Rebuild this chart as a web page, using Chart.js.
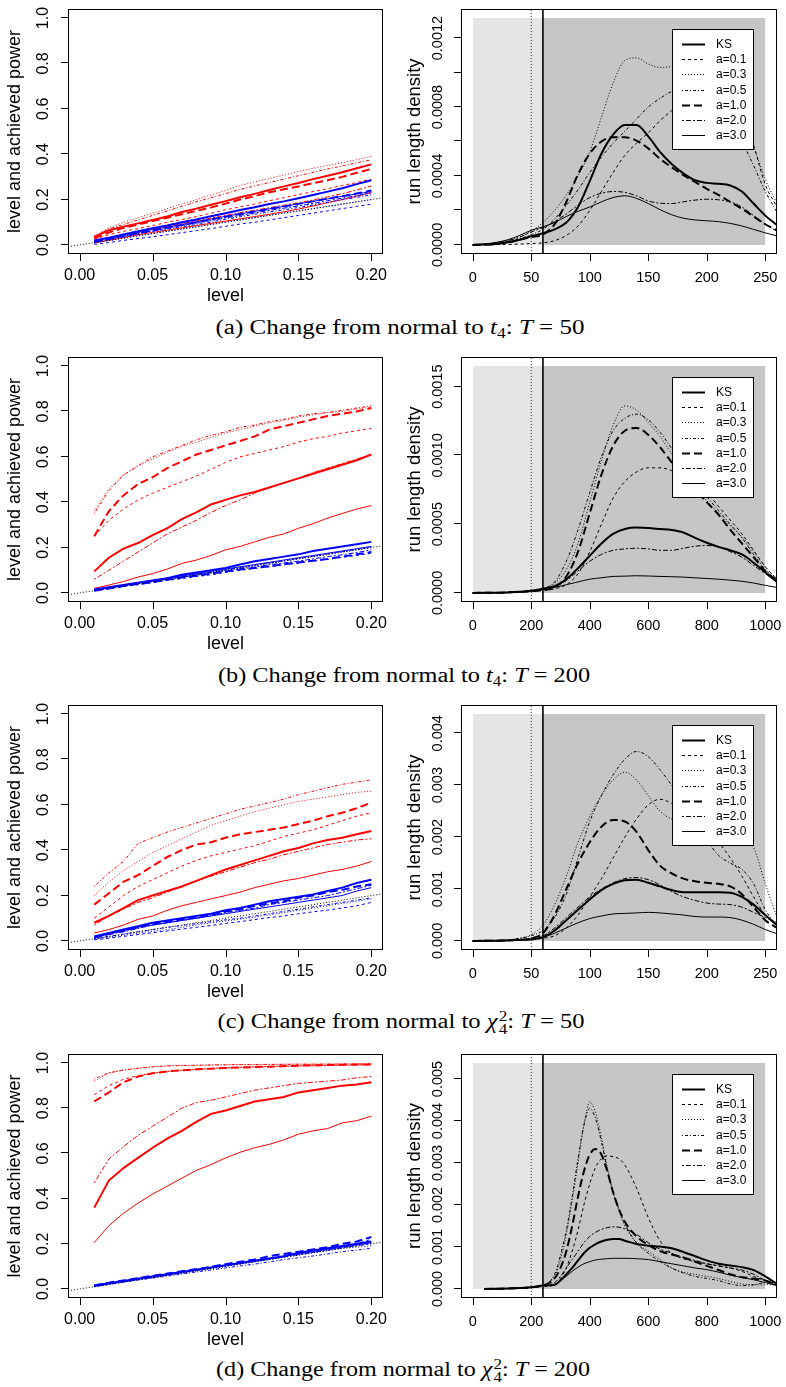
<!DOCTYPE html>
<html>
<head>
<meta charset="utf-8">
<script src="https://cdn.jsdelivr.net/npm/chart.js@4.4.1/dist/chart.umd.min.js"></script>
<style>
  html, body { margin: 0; padding: 0; background: #fff; }
  body { width: 786px; height: 1387px; position: relative; overflow: hidden; }
  canvas { position: absolute; }
  .cap { position: absolute; font-family: "Liberation Serif", "Times New Roman", serif; font-size: 20px;
         white-space: nowrap; color: #000; transform-origin: center center; }
  .cap sub { font-size: 0.7em; vertical-align: -0.3em; line-height: 0; }
  .ss { display: inline-block; vertical-align: -0.42em; font-size: 0.7em; line-height: 0.92; margin-left: 1px; }
  .ss span { display: block; }
</style>
</head>
<body>
<div class="cap" data-w="369" style="left:400px;top:327px">(a) Change from normal to <i>t</i><sub>4</sub>: <i>T</i> = 50</div>
<div class="cap" data-w="372" style="left:404px;top:675px">(b) Change from normal to <i>t</i><sub>4</sub>: <i>T</i> = 200</div>
<div class="cap" data-w="367" style="left:401px;top:1023px">(c) Change from normal to <i>χ</i><span class="ss"><span>2</span><span>4</span></span>: <i>T</i> = 50</div>
<div class="cap" data-w="374" style="left:403px;top:1371px">(d) Change from normal to <i>χ</i><span class="ss"><span>2</span><span>4</span></span>: <i>T</i> = 200</div>
<script>
/* ---------- Daten ---------- */

const METHODS = ["KS", "a=0.1", "a=0.3", "a=0.5", "a=1.0", "a=2.0", "a=3.0"];
const LEVELS = [0.01,0.02,0.03,0.04,0.05,0.06,0.07,0.08,0.09,0.10,0.11,0.12,0.13,0.14,0.15,0.16,0.17,0.18,0.19,0.20];
const LEVEL_TICKS = [0, 0.05, 0.10, 0.15, 0.20];
const LEVEL_LABELS = ["0.00", "0.05", "0.10", "0.15", "0.20"];
const POWER_TICKS = [0, 0.2, 0.4, 0.6, 0.8, 1.0];
const POWER_LABELS = ["0.0", "0.2", "0.4", "0.6", "0.8", "1.0"];

// (a) t4, T=50 : Power (rot) und erreichtes Niveau (blau)
const A_POW_KS = [0.035,0.065,0.08,0.095,0.11,0.125,0.145,0.16,0.177,0.193,0.21,0.225,0.242,0.258,0.273,0.29,0.305,0.32,0.338,0.355];
const A_POW_01 = [0.025,0.045,0.06,0.072,0.085,0.1,0.112,0.125,0.14,0.155,0.168,0.18,0.195,0.208,0.222,0.235,0.248,0.262,0.275,0.29];
const A_POW_03 = [0.04,0.075,0.1,0.12,0.14,0.16,0.18,0.2,0.22,0.24,0.262,0.278,0.293,0.308,0.323,0.338,0.35,0.362,0.376,0.39];
const A_POW_05 = [0.035,0.07,0.09,0.11,0.13,0.15,0.17,0.19,0.208,0.226,0.245,0.26,0.275,0.29,0.305,0.32,0.335,0.348,0.362,0.375];
const A_POW_10 = [0.03,0.055,0.075,0.09,0.105,0.12,0.135,0.15,0.165,0.182,0.2,0.215,0.232,0.245,0.258,0.272,0.285,0.3,0.318,0.335];
const A_POW_20 = [0.015,0.03,0.045,0.058,0.07,0.082,0.094,0.106,0.118,0.13,0.142,0.153,0.164,0.175,0.186,0.198,0.212,0.226,0.242,0.26];
const A_POW_30 = [0.01,0.02,0.032,0.045,0.055,0.065,0.075,0.085,0.095,0.105,0.115,0.125,0.135,0.146,0.158,0.172,0.186,0.2,0.215,0.23];
const A_LEV_KS = [0.02,0.032,0.046,0.06,0.074,0.086,0.1,0.112,0.126,0.14,0.154,0.166,0.18,0.192,0.206,0.22,0.235,0.25,0.268,0.285];
const A_LEV_01 = [0.003,0.01,0.02,0.028,0.036,0.045,0.054,0.063,0.072,0.082,0.092,0.1,0.11,0.12,0.13,0.14,0.15,0.16,0.17,0.18];
const A_LEV_03 = [0.008,0.019,0.029,0.04,0.05,0.06,0.07,0.08,0.09,0.1,0.11,0.12,0.13,0.14,0.15,0.16,0.17,0.18,0.19,0.2];
const A_LEV_05 = [0.01,0.024,0.035,0.048,0.06,0.07,0.08,0.09,0.1,0.113,0.124,0.135,0.145,0.155,0.165,0.176,0.188,0.199,0.21,0.22];
const A_LEV_10 = [0.015,0.026,0.04,0.052,0.064,0.076,0.088,0.1,0.112,0.124,0.136,0.147,0.159,0.17,0.181,0.192,0.204,0.215,0.227,0.24];
const A_LEV_20 = [0.015,0.025,0.038,0.05,0.062,0.073,0.085,0.096,0.107,0.119,0.13,0.141,0.152,0.162,0.172,0.183,0.195,0.206,0.217,0.23];
const A_LEV_30 = [0.02,0.03,0.042,0.055,0.068,0.079,0.09,0.102,0.114,0.126,0.137,0.148,0.159,0.17,0.181,0.192,0.203,0.214,0.225,0.235];

// (b) t4, T=200
const B_POW_KS = [0.095,0.155,0.195,0.22,0.255,0.285,0.325,0.355,0.39,0.41,0.43,0.445,0.465,0.485,0.505,0.525,0.545,0.565,0.585,0.61];
const B_POW_01 = [0.25,0.32,0.37,0.41,0.44,0.465,0.49,0.515,0.545,0.575,0.6,0.615,0.63,0.645,0.665,0.68,0.69,0.705,0.715,0.725];
const B_POW_03 = [0.36,0.46,0.52,0.56,0.59,0.62,0.645,0.665,0.685,0.705,0.72,0.735,0.75,0.76,0.775,0.785,0.795,0.8,0.81,0.82];
const B_POW_05 = [0.35,0.45,0.52,0.56,0.6,0.625,0.65,0.675,0.695,0.71,0.73,0.74,0.755,0.765,0.78,0.79,0.795,0.805,0.815,0.825];
const B_POW_10 = [0.25,0.36,0.43,0.48,0.51,0.55,0.58,0.61,0.63,0.65,0.67,0.69,0.72,0.735,0.75,0.765,0.78,0.79,0.8,0.815];
const B_POW_20 = [0.06,0.1,0.14,0.18,0.22,0.26,0.29,0.32,0.355,0.385,0.41,0.44,0.465,0.485,0.505,0.53,0.55,0.57,0.59,0.61];
const B_POW_30 = [0.02,0.035,0.05,0.07,0.085,0.105,0.13,0.145,0.165,0.19,0.205,0.225,0.245,0.26,0.285,0.305,0.33,0.35,0.37,0.385];
const B_LEV_KS = [0.015,0.025,0.035,0.045,0.055,0.065,0.08,0.09,0.1,0.11,0.125,0.14,0.15,0.16,0.17,0.185,0.195,0.205,0.215,0.225];
const B_LEV_01 = [0.01,0.018,0.028,0.036,0.045,0.055,0.063,0.072,0.08,0.09,0.1,0.108,0.115,0.124,0.132,0.14,0.148,0.157,0.165,0.175];
const B_LEV_03 = [0.01,0.02,0.03,0.04,0.05,0.06,0.07,0.08,0.09,0.1,0.11,0.12,0.13,0.14,0.15,0.16,0.17,0.18,0.19,0.2];
const B_LEV_05 = [0.012,0.022,0.032,0.042,0.052,0.062,0.072,0.082,0.092,0.102,0.112,0.122,0.132,0.142,0.152,0.162,0.172,0.182,0.192,0.202];
const B_LEV_10 = [0.01,0.02,0.03,0.04,0.048,0.058,0.068,0.076,0.085,0.094,0.103,0.11,0.118,0.126,0.134,0.142,0.15,0.16,0.17,0.18];
const B_LEV_20 = [0.012,0.022,0.032,0.042,0.05,0.06,0.07,0.078,0.088,0.096,0.106,0.114,0.124,0.132,0.14,0.15,0.16,0.168,0.178,0.19];
const B_LEV_30 = [0.015,0.025,0.035,0.045,0.055,0.065,0.075,0.085,0.095,0.105,0.115,0.125,0.135,0.145,0.155,0.165,0.175,0.185,0.195,0.205];

// (c) chi2_4, T=50
const C_POW_KS = [0.08,0.11,0.145,0.18,0.2,0.22,0.24,0.265,0.29,0.315,0.335,0.355,0.375,0.395,0.41,0.43,0.445,0.455,0.47,0.485];
const C_POW_01 = [0.1,0.15,0.2,0.24,0.27,0.3,0.33,0.355,0.375,0.39,0.405,0.42,0.44,0.46,0.475,0.49,0.51,0.53,0.55,0.565];
const C_POW_03 = [0.2,0.26,0.31,0.35,0.39,0.42,0.45,0.48,0.51,0.53,0.55,0.57,0.585,0.6,0.615,0.625,0.635,0.645,0.655,0.66];
const C_POW_05 = [0.24,0.3,0.35,0.43,0.455,0.48,0.5,0.52,0.54,0.56,0.58,0.595,0.61,0.625,0.645,0.66,0.675,0.69,0.7,0.71];
const C_POW_10 = [0.16,0.21,0.26,0.29,0.33,0.37,0.4,0.425,0.435,0.455,0.47,0.48,0.49,0.5,0.515,0.53,0.55,0.565,0.585,0.61];
const C_POW_20 = [0.07,0.11,0.14,0.17,0.19,0.215,0.24,0.265,0.285,0.305,0.325,0.345,0.36,0.38,0.395,0.41,0.425,0.435,0.445,0.45];
const C_POW_30 = [0.035,0.05,0.07,0.095,0.11,0.135,0.155,0.17,0.185,0.2,0.215,0.235,0.25,0.265,0.275,0.29,0.305,0.315,0.33,0.35];
const C_LEV_KS = [0.02,0.035,0.05,0.065,0.08,0.09,0.1,0.11,0.12,0.135,0.145,0.16,0.175,0.185,0.195,0.205,0.22,0.235,0.255,0.27];
const C_LEV_01 = [0.005,0.012,0.02,0.028,0.036,0.044,0.052,0.06,0.068,0.077,0.085,0.094,0.103,0.11,0.12,0.128,0.136,0.145,0.155,0.17];
const C_LEV_03 = [0.008,0.016,0.025,0.034,0.042,0.05,0.06,0.07,0.08,0.088,0.096,0.105,0.115,0.125,0.135,0.145,0.155,0.165,0.175,0.185];
const C_LEV_05 = [0.01,0.02,0.03,0.04,0.05,0.06,0.068,0.076,0.085,0.093,0.1,0.11,0.12,0.13,0.14,0.15,0.16,0.17,0.18,0.19];
const C_LEV_10 = [0.015,0.03,0.045,0.06,0.075,0.085,0.095,0.105,0.115,0.13,0.14,0.155,0.165,0.175,0.19,0.2,0.215,0.225,0.24,0.25];
const C_LEV_20 = [0.015,0.03,0.04,0.055,0.07,0.08,0.09,0.1,0.11,0.125,0.135,0.145,0.16,0.17,0.18,0.19,0.2,0.215,0.23,0.245];
const C_LEV_30 = [0.015,0.03,0.045,0.06,0.07,0.08,0.09,0.1,0.11,0.12,0.13,0.14,0.15,0.16,0.17,0.18,0.19,0.2,0.22,0.235];

// (d) chi2_4, T=200
const D_POW_KS = [0.36,0.48,0.535,0.58,0.625,0.665,0.7,0.74,0.775,0.79,0.81,0.83,0.84,0.85,0.87,0.88,0.89,0.9,0.905,0.915];
const D_POW_01 = [0.86,0.9,0.928,0.945,0.955,0.963,0.968,0.972,0.976,0.979,0.981,0.983,0.985,0.986,0.987,0.988,0.989,0.99,0.991,0.992];
const D_POW_03 = [0.92,0.955,0.97,0.978,0.984,0.988,0.99,0.99,0.992,0.993,0.993,0.994,0.994,0.995,0.995,0.995,0.996,0.996,0.996,0.997];
const D_POW_05 = [0.93,0.957,0.968,0.976,0.983,0.987,0.989,0.99,0.991,0.992,0.993,0.993,0.994,0.994,0.995,0.995,0.995,0.996,0.996,0.996];
const D_POW_10 = [0.83,0.87,0.915,0.94,0.955,0.963,0.968,0.972,0.975,0.978,0.98,0.982,0.984,0.986,0.988,0.99,0.991,0.992,0.993,0.994];
const D_POW_20 = [0.47,0.575,0.63,0.68,0.72,0.76,0.8,0.825,0.835,0.85,0.865,0.88,0.89,0.9,0.91,0.915,0.92,0.925,0.935,0.94];
const D_POW_30 = [0.205,0.28,0.335,0.38,0.42,0.455,0.49,0.525,0.55,0.58,0.605,0.625,0.64,0.66,0.685,0.7,0.71,0.735,0.745,0.765];
const D_LEV_KS = [0.015,0.025,0.035,0.045,0.055,0.065,0.075,0.085,0.095,0.105,0.115,0.125,0.135,0.145,0.16,0.17,0.18,0.19,0.2,0.21];
const D_LEV_01 = [0.012,0.024,0.034,0.044,0.054,0.064,0.074,0.084,0.094,0.104,0.115,0.125,0.135,0.145,0.158,0.168,0.18,0.19,0.2,0.22];
const D_LEV_03 = [0.01,0.02,0.03,0.04,0.05,0.06,0.07,0.08,0.09,0.1,0.11,0.12,0.13,0.14,0.15,0.16,0.17,0.18,0.185,0.19];
const D_LEV_05 = [0.01,0.02,0.03,0.04,0.048,0.057,0.066,0.075,0.084,0.093,0.102,0.11,0.12,0.13,0.138,0.146,0.155,0.165,0.172,0.18];
const D_LEV_10 = [0.015,0.028,0.038,0.048,0.058,0.068,0.078,0.088,0.098,0.11,0.12,0.13,0.145,0.155,0.165,0.175,0.185,0.2,0.21,0.23];
const D_LEV_20 = [0.012,0.022,0.032,0.042,0.052,0.062,0.072,0.082,0.092,0.102,0.112,0.122,0.132,0.142,0.152,0.162,0.172,0.182,0.192,0.2];
const D_LEV_30 = [0.015,0.025,0.035,0.045,0.055,0.065,0.075,0.085,0.095,0.105,0.115,0.125,0.135,0.145,0.155,0.165,0.175,0.185,0.195,0.205];

// Laufl\u00e4ngen-Dichten (rechte Spalte)
const RUN_50 = [0,10,20,30,40,50,60,70,80,90,100,110,120,130,140,150,160,170,180,190,200,210,220,230,240,250,260];
const RUN_200 = [0,40,80,120,160,200,240,280,320,360,400,440,480,520,560,600,640,680,720,760,800,840,880,920,960,1000,1040];
const RUN_200D = [40,80,120,160,200,240,280,300,320,340,360,380,400,420,440,460,480,500,520,560,600,640,680,720,760,800,840,880,920,960,1000,1040];

// (a) Dichte in Einheiten von 1e-4
const A_DENS_KS = [0,0.02,0.05,0.15,0.3,0.5,0.68,0.9,1.3,2.2,3.7,5.3,6.4,6.95,6.95,6.3,5.4,4.7,4.15,3.75,3.6,3.55,3.45,3.1,2.4,1.7,1.15];
const A_DENS_01 = [0,0.01,0.02,0.03,0.05,0.08,0.12,0.25,0.55,1.1,2.0,3.1,4.2,5.2,5.9,6.5,7.2,7.8,8.4,9.0,9.4,9.6,9.3,8.0,5.8,3.5,2.2];
const A_DENS_03 = [0,0.05,0.12,0.25,0.45,0.8,1.3,2.0,2.9,4.0,5.4,7.4,9.4,10.7,10.85,10.5,10.3,10.35,10.5,10.4,10.1,9.5,8.6,7.2,5.7,3.8,2.4];
const A_DENS_05 = [0,0.04,0.1,0.2,0.35,0.6,0.9,1.5,2.3,3.2,4.2,5.1,5.9,6.6,7.3,8.0,8.5,8.9,9.1,9.1,8.8,8.2,7.2,6.0,4.6,3.1,1.9];
const A_DENS_10 = [0,0.02,0.06,0.15,0.3,0.45,0.6,1.2,2.5,4.1,5.3,6.0,6.25,6.25,6.05,5.6,5.0,4.5,4.05,3.65,3.25,2.9,2.5,2.1,1.65,1.2,0.85];
const A_DENS_20 = [0,0.05,0.12,0.25,0.45,0.75,1.0,1.35,1.8,2.3,2.75,3.0,3.1,3.05,2.85,2.55,2.42,2.4,2.5,2.6,2.65,2.62,2.5,2.2,1.7,1.2,0.8];
const A_DENS_30 = [0,0.05,0.15,0.3,0.55,0.85,1.05,1.3,1.65,1.95,2.2,2.5,2.75,2.85,2.7,2.4,2.05,1.75,1.55,1.45,1.4,1.35,1.25,1.1,0.9,0.7,0.52];

// (b) Dichte in Einheiten von 1e-4
const B_DENS_KS = [0,0.01,0.02,0.04,0.08,0.15,0.3,0.5,1.0,1.8,2.7,3.6,4.3,4.65,4.75,4.72,4.65,4.58,4.4,4.0,3.65,3.35,3.1,2.8,2.2,1.5,0.8];
const B_DENS_01 = [0,0.01,0.02,0.04,0.07,0.12,0.2,0.3,0.6,1.4,3.0,5.0,6.9,8.1,8.8,9.1,9.1,8.9,8.5,8.0,7.3,6.3,5.3,4.3,3.1,1.9,1.0];
const B_DENS_03 = [0,0.01,0.02,0.04,0.08,0.15,0.3,0.7,1.7,3.6,6.6,9.6,12.2,13.6,13.3,12.4,11.4,10.1,8.9,7.7,6.7,5.8,4.9,4.1,3.0,1.9,1.0];
const B_DENS_05 = [0,0.01,0.02,0.04,0.08,0.15,0.3,0.8,2.3,4.6,7.3,9.9,11.8,12.7,13.0,12.6,11.7,10.5,9.2,8.0,7.0,6.0,5.0,4.0,2.8,1.7,0.9];
const B_DENS_10 = [0,0.01,0.02,0.04,0.07,0.12,0.2,0.4,1.2,3.0,5.8,8.6,10.7,11.8,12.0,11.5,10.6,9.5,8.4,7.5,6.6,5.7,4.6,3.6,2.6,1.6,0.9];
const B_DENS_20 = [0,0.01,0.02,0.04,0.08,0.15,0.25,0.45,0.9,1.6,2.3,2.8,3.1,3.2,3.25,3.2,3.1,3.1,3.25,3.4,3.45,3.35,3.0,2.6,2.0,1.4,0.8];
const B_DENS_30 = [0,0.01,0.02,0.04,0.08,0.15,0.25,0.4,0.6,0.8,1.0,1.1,1.2,1.22,1.25,1.23,1.2,1.18,1.15,1.1,1.05,1.0,0.93,0.85,0.72,0.55,0.4];

// (c) Dichte in Einheiten von 1e-3
const C_DENS_KS = [0,0.002,0.005,0.01,0.02,0.03,0.07,0.2,0.4,0.6,0.8,0.98,1.1,1.17,1.18,1.12,1.05,0.98,0.94,0.94,0.94,0.94,0.93,0.85,0.7,0.5,0.3];
const C_DENS_01 = [0,0.001,0.002,0.005,0.01,0.02,0.05,0.1,0.25,0.5,0.85,1.2,1.6,2.0,2.35,2.62,2.73,2.65,2.5,2.3,2.1,1.9,1.6,1.25,0.85,0.5,0.3];
const C_DENS_03 = [0,0.003,0.01,0.02,0.05,0.12,0.3,0.7,1.25,1.9,2.4,2.8,3.1,3.25,3.1,2.8,2.5,2.35,2.3,2.25,2.2,2.15,2.1,2.0,1.8,1.1,0.45];
const C_DENS_05 = [0,0.003,0.01,0.02,0.05,0.1,0.2,0.45,0.9,1.6,2.3,2.8,3.2,3.5,3.65,3.55,3.3,3.0,2.7,2.35,1.95,1.65,1.5,1.38,1.1,0.6,0.3];
const C_DENS_10 = [0,0.002,0.005,0.01,0.02,0.05,0.15,0.5,1.0,1.5,1.9,2.2,2.33,2.3,2.1,1.75,1.45,1.3,1.2,1.15,1.12,1.1,1.05,0.9,0.65,0.4,0.25];
const C_DENS_20 = [0,0.002,0.005,0.01,0.02,0.05,0.1,0.25,0.45,0.65,0.85,1.0,1.12,1.2,1.22,1.18,1.08,0.95,0.85,0.78,0.73,0.71,0.7,0.65,0.55,0.45,0.35];
const C_DENS_30 = [0,0.002,0.005,0.01,0.02,0.03,0.07,0.15,0.25,0.35,0.43,0.48,0.52,0.53,0.54,0.55,0.54,0.52,0.5,0.47,0.46,0.46,0.45,0.4,0.32,0.22,0.14];

// (d) Dichte in Einheiten von 1e-3
const D_DENS_KS = [0,0.005,0.01,0.02,0.04,0.08,0.1,0.2,0.35,0.5,0.68,0.85,0.98,1.07,1.13,1.17,1.19,1.19,1.15,1.07,1.03,1.01,0.97,0.88,0.78,0.68,0.6,0.56,0.52,0.45,0.3,0.12];
const D_DENS_01 = [0,0.005,0.01,0.02,0.04,0.06,0.1,0.25,0.5,0.9,1.4,2.0,2.5,2.9,3.1,3.17,3.15,3.1,2.95,2.4,1.7,1.15,0.85,0.72,0.65,0.6,0.55,0.5,0.42,0.3,0.2,0.12];
const D_DENS_03 = [0,0.005,0.01,0.02,0.04,0.08,0.3,0.7,1.3,2.1,3.0,3.9,4.45,4.2,3.6,2.9,2.3,1.85,1.5,1.1,0.9,0.7,0.5,0.4,0.35,0.3,0.25,0.18,0.12,0.1,0.1,0.1];
const D_DENS_05 = [0,0.005,0.01,0.02,0.04,0.08,0.35,0.8,1.4,2.2,3.1,3.9,4.3,4.05,3.5,2.85,2.3,1.9,1.55,1.1,0.85,0.65,0.5,0.38,0.3,0.25,0.2,0.12,0.08,0.1,0.15,0.15];
const D_DENS_10 = [0,0.005,0.01,0.02,0.04,0.08,0.25,0.5,0.9,1.5,2.2,2.8,3.2,3.33,3.2,2.8,2.3,1.9,1.6,1.25,1.05,0.9,0.82,0.75,0.65,0.55,0.45,0.35,0.28,0.25,0.2,0.1];
const D_DENS_20 = [0,0.005,0.01,0.02,0.04,0.08,0.15,0.3,0.5,0.7,0.9,1.1,1.25,1.35,1.42,1.46,1.48,1.47,1.43,1.3,1.1,0.95,0.85,0.75,0.68,0.6,0.55,0.5,0.45,0.35,0.2,0.08];
const D_DENS_30 = [0,0.005,0.01,0.02,0.04,0.08,0.1,0.2,0.3,0.42,0.52,0.6,0.65,0.69,0.71,0.72,0.73,0.73,0.73,0.72,0.7,0.65,0.6,0.55,0.5,0.46,0.4,0.33,0.27,0.22,0.15,0.08];

// Achsen der rechten Spalte
const RUN_TICKS_50 = [0, 50, 100, 150, 200, 250];
const RUN_TICKS_200 = [0, 200, 400, 600, 800, 1000];
const A_DENS_TICKS = [0, 0.0002, 0.0004, 0.0006, 0.0008, 0.0010, 0.0012];
const A_DENS_LABELS = ["0.0000", "", "0.0004", "", "0.0008", "", "0.0012"];
const B_DENS_TICKS = [0, 0.0005, 0.0010, 0.0015];
const B_DENS_LABELS = ["0.0000", "0.0005", "0.0010", "0.0015"];
const C_DENS_TICKS = [0, 0.001, 0.002, 0.003, 0.004];
const C_DENS_LABELS = ["0.000", "0.001", "0.002", "0.003", "0.004"];
const D_DENS_TICKS = [0, 0.001, 0.002, 0.003, 0.004, 0.005];
const D_DENS_LABELS = ["0.000", "0.001", "0.002", "0.003", "0.004", "0.005"];
// Beobachtungsfenster: Ende, Change-Zeitpunkt T (gepunktet), Start (durchgezogen), Dichte-Maximum
const A_WINDOW = [250, 50, 60, 0.001316];
const B_WINDOW = [1000, 200, 240, 0.00165];
const C_WINDOW = [250, 50, 60, 0.00437];
const D_WINDOW = [1000, 200, 240, 0.00538];

/* ---------- Stil ---------- */

const RED = "#ff0000", BLUE = "#0000ff", INK = "#000000";
const LIGHT = "#e5e5e5", DARK = "#c6c6c6";
const SANS = '"Liberation Sans", Arial, Helvetica, sans-serif';
const LTY = [
  { w: 2, dash: [] },            // KS
  { w: 1, dash: [3, 3] },        // a=0.1
  { w: 1, dash: [1, 2] },        // a=0.3
  { w: 1, dash: [1, 2, 3, 2] },  // a=0.5
  { w: 2, dash: [8, 4] },        // a=1.0
  { w: 1, dash: [2, 2, 5, 2] },  // a=2.0
  { w: 1, dash: [] },            // a=3.0
];
const TICK = 7;

Chart.defaults.font.family = SANS;
Chart.defaults.animation = false;

/* ---------- R-Rahmen: Box, Ticks, Beschriftung, Legende ---------- */

const rFrame = {
  id: "rFrame",
  afterDatasetsDraw(chart, args, o) {
    if (!o.legend) return;
    const { ctx, chartArea: a } = chart;
    const w = 81, h = 120, left = a.right - 24 - w, top = a.top + 20;
    ctx.save();
    ctx.fillStyle = "#fff";
    ctx.fillRect(left, top, w, h);
    ctx.strokeStyle = INK; ctx.lineWidth = 1;
    ctx.strokeRect(left + 0.5, top + 0.5, w, h);
    ctx.font = `12px ${SANS}`;
    ctx.textAlign = "left"; ctx.textBaseline = "middle"; ctx.fillStyle = INK;
    METHODS.forEach((m, i) => {
      const yy = Math.round(top + 15 + i * 15.2) + 0.5;
      ctx.setLineDash(LTY[i].dash);
      ctx.lineWidth = LTY[i].w;
      ctx.beginPath(); ctx.moveTo(left + 10, yy); ctx.lineTo(left + 33, yy); ctx.stroke();
      ctx.fillText(m, left + 44, yy);
    });
    ctx.restore();
  },
  afterDraw(chart, args, o) {
    const { ctx, chartArea: a, scales: { x, y } } = chart;
    ctx.save();
    ctx.strokeStyle = INK; ctx.lineWidth = 1; ctx.setLineDash([]);
    ctx.strokeRect(a.left + 0.5, a.top + 0.5, a.right - a.left - 1, a.bottom - a.top - 1);
    ctx.beginPath();
    o.xTicks.forEach((v) => {
      const px = Math.round(x.getPixelForValue(v)) + 0.5;
      ctx.moveTo(px, a.bottom); ctx.lineTo(px, a.bottom + TICK);
    });
    o.yTicks.forEach((v) => {
      const py = Math.round(y.getPixelForValue(v)) - 0.5;
      ctx.moveTo(a.left, py); ctx.lineTo(a.left - TICK, py);
    });
    ctx.stroke();
    ctx.fillStyle = INK;
    ctx.textAlign = "center"; ctx.textBaseline = "middle";
    ctx.font = `${o.tickSize}px ${SANS}`;
    o.xTicks.forEach((v, i) => ctx.fillText(o.xLabels[i], x.getPixelForValue(v), a.bottom + o.xGap));
    o.yTicks.forEach((v, i) => {
      if (!o.yLabels[i]) return;
      ctx.save();
      ctx.translate(a.left - o.yGap, y.getPixelForValue(v));
      ctx.rotate(-Math.PI / 2);
      ctx.fillText(o.yLabels[i], 0, 0);
      ctx.restore();
    });
    ctx.font = `${o.titleSize}px ${SANS}`;
    if (o.xTitle) ctx.fillText(o.xTitle, (a.left + a.right) / 2, a.bottom + o.xTitleGap);
    if (o.yTitle) {
      ctx.save();
      ctx.translate(a.left - o.yTitleGap, (a.top + a.bottom) / 2);
      ctx.rotate(-Math.PI / 2);
      ctx.fillText(o.yTitle, 0, 0);
      ctx.restore();
    }
    ctx.restore();
  },
};
Chart.register(rFrame);

/* ---------- Datensatz-Helfer ---------- */

function lineSeries(xs, ys, unit, color, lty, smooth) {
  return {
    data: xs.map((x, i) => ({ x, y: ys[i] * unit })),
    borderColor: color,
    borderWidth: lty.w,
    borderDash: lty.dash,
    pointRadius: 0,
    fill: false,
    clip: 0,
    tension: 0,
    cubicInterpolationMode: smooth ? "monotone" : "default",
    order: 1,
  };
}

function segment(p0, p1, color, lty, order) {
  return {
    data: [p0, p1], borderColor: color, borderWidth: lty.w, borderDash: lty.dash,
    pointRadius: 0, fill: false, clip: 0, order,
  };
}

function band(x0, x1, top, color, order) {
  return {
    data: [{ x: x0, y: top }, { x: x1, y: top }],
    borderWidth: 0, borderColor: "rgba(0,0,0,0)", backgroundColor: color,
    pointRadius: 0, fill: "origin", clip: 0, order,
  };
}

const BOX_TOPS = [9, 357, 705, 1054];
const BOX_H = [245, 245, 245, 244];

function makeCanvas(left, top, w, h) {
  const c = document.createElement("canvas");
  c.width = w; c.height = h;
  c.style.left = left + "px"; c.style.top = top + "px";
  c.style.width = w + "px"; c.style.height = h + "px";
  document.body.appendChild(c);
  return c;
}

function baseOptions(xlim, ylim, pad, frame) {
  return {
    responsive: false, animation: false, devicePixelRatio: 1,
    layout: { padding: pad },
    events: [],
    plugins: { legend: { display: false }, tooltip: { enabled: false }, rFrame: frame },
    scales: {
      x: { type: "linear", min: xlim[0], max: xlim[1], display: false },
      y: { type: "linear", min: ylim[0], max: ylim[1], display: false },
    },
  };
}

function powerPanel(row, pow, lev) {
  const top = BOX_TOPS[row] - 9, h = 9 + BOX_H[row] + 60;
  const xlim = [-0.008, 0.208], ylim = [-0.04, 1.04];
  const ds = [];
  METHODS.forEach((m, i) => {
    ds.push(lineSeries(LEVELS, pow[i], 1, RED, LTY[i], false));
    ds.push(lineSeries(LEVELS, lev[i], 1, BLUE, LTY[i], false));
  });
  ds.push(segment({ x: xlim[0], y: xlim[0] }, { x: xlim[1], y: xlim[1] }, INK, { w: 1, dash: [1, 2] }, 0));
  new Chart(makeCanvas(0, top, 390, h), {
    type: "line",
    data: { datasets: ds },
    options: baseOptions(xlim, ylim, { left: 68, right: 7, top: 9, bottom: 60 }, {
      xTicks: LEVEL_TICKS, xLabels: LEVEL_LABELS, yTicks: POWER_TICKS, yLabels: POWER_LABELS,
      tickSize: 16, titleSize: 18, xGap: 22, yGap: 24, xTitle: "level", xTitleGap: 42,
      yTitle: "level and achieved power", yTitleGap: 53,
    }),
  });
}

function densityPanel(row, runs, dens, unit, win, yTicks, yLabels, xTicks) {
  const top = BOX_TOPS[row] - 9, h = 9 + BOX_H[row] + 60;
  const [end, change, start, ymax] = win;
  const xlim = [-0.04 * end, 1.04 * end], ylim = [-0.04 * ymax, 1.04 * ymax];
  const ds = dens.map((d, i) => lineSeries(runs, d, unit, INK, LTY[i], true));
  ds.push(segment({ x: change, y: ylim[0] }, { x: change, y: ylim[1] }, "#333", { w: 1, dash: [1, 2] }, 2));
  ds.push(segment({ x: start, y: ylim[0] }, { x: start, y: ylim[1] }, INK, { w: 1.6, dash: [] }, 2));
  ds.push(band(start, end, ymax, DARK, 9));
  ds.push(band(0, end, ymax, LIGHT, 10));
  new Chart(makeCanvas(390, top, 396, h), {
    type: "line",
    data: { datasets: ds },
    options: baseOptions(xlim, ylim, { left: 71, right: 9, top: 9, bottom: 60 }, {
      xTicks, xLabels: xTicks.map(String), yTicks, yLabels,
      tickSize: 14.5, titleSize: 18.5, xGap: 24, yGap: 23,
      yTitle: "run length density", yTitleGap: 46, legend: true,
    }),
  });
}

powerPanel(0, [A_POW_KS, A_POW_01, A_POW_03, A_POW_05, A_POW_10, A_POW_20, A_POW_30],
              [A_LEV_KS, A_LEV_01, A_LEV_03, A_LEV_05, A_LEV_10, A_LEV_20, A_LEV_30]);
powerPanel(1, [B_POW_KS, B_POW_01, B_POW_03, B_POW_05, B_POW_10, B_POW_20, B_POW_30],
              [B_LEV_KS, B_LEV_01, B_LEV_03, B_LEV_05, B_LEV_10, B_LEV_20, B_LEV_30]);
powerPanel(2, [C_POW_KS, C_POW_01, C_POW_03, C_POW_05, C_POW_10, C_POW_20, C_POW_30],
              [C_LEV_KS, C_LEV_01, C_LEV_03, C_LEV_05, C_LEV_10, C_LEV_20, C_LEV_30]);
powerPanel(3, [D_POW_KS, D_POW_01, D_POW_03, D_POW_05, D_POW_10, D_POW_20, D_POW_30],
              [D_LEV_KS, D_LEV_01, D_LEV_03, D_LEV_05, D_LEV_10, D_LEV_20, D_LEV_30]);

densityPanel(0, RUN_50, [A_DENS_KS, A_DENS_01, A_DENS_03, A_DENS_05, A_DENS_10, A_DENS_20, A_DENS_30], 1e-4,
             A_WINDOW, A_DENS_TICKS, A_DENS_LABELS, RUN_TICKS_50);
densityPanel(1, RUN_200, [B_DENS_KS, B_DENS_01, B_DENS_03, B_DENS_05, B_DENS_10, B_DENS_20, B_DENS_30], 1e-4,
             B_WINDOW, B_DENS_TICKS, B_DENS_LABELS, RUN_TICKS_200);
densityPanel(2, RUN_50, [C_DENS_KS, C_DENS_01, C_DENS_03, C_DENS_05, C_DENS_10, C_DENS_20, C_DENS_30], 1e-3,
             C_WINDOW, C_DENS_TICKS, C_DENS_LABELS, RUN_TICKS_50);
densityPanel(3, RUN_200D, [D_DENS_KS, D_DENS_01, D_DENS_03, D_DENS_05, D_DENS_10, D_DENS_20, D_DENS_30], 1e-3,
             D_WINDOW, D_DENS_TICKS, D_DENS_LABELS, RUN_TICKS_200);

/* Bildunterschriften auf die Breite der Vorlage bringen */
document.querySelectorAll(".cap").forEach((el) => {
  const k = Number(el.dataset.w) / el.getBoundingClientRect().width;
  el.style.transform = `translate(-50%, -50%) scaleX(${k.toFixed(3)})`;
});
</script>
</body>
</html>
